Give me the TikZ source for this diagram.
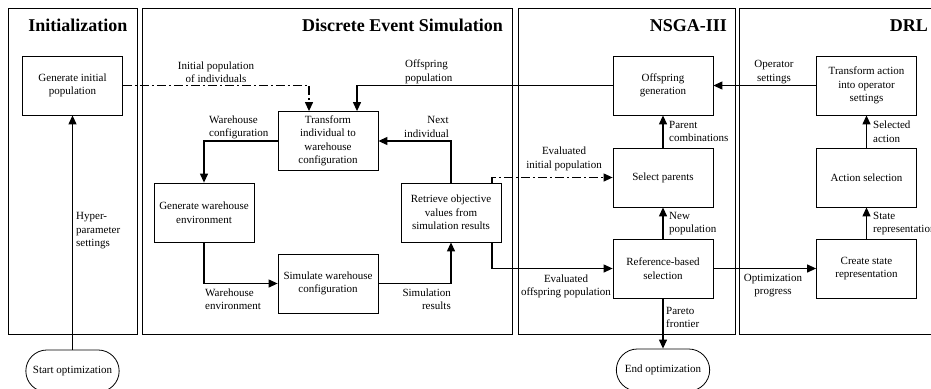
\documentclass[tikz,border=0pt]{standalone}
\usepackage{fontspec}
\setmainfont{Liberation Serif}
\usetikzlibrary{arrows.meta,shapes.misc}

\begin{document}
\begin{tikzpicture}[x=1pt,y=-1pt,
    every node/.style={font=\fontsize{11}{13.5}\selectfont},
    panel/.style={line width=1pt},
    paneltitle/.style={font=\fontsize{18}{20}\selectfont\bfseries,inner sep=0pt},
    procbox/.style={draw,line width=0.8pt,minimum width=100pt,minimum height=59pt,align=center,inner sep=2pt},
    terminal/.style={draw,line width=0.8pt,rounded rectangle,minimum width=100pt,minimum height=42pt},
    lbl/.style={inner sep=0pt,align=center},
    lbll/.style={inner sep=0pt,align=left,anchor=west},
    lblr/.style={inner sep=0pt,align=right,anchor=east},
    flow/.style={line width=1.2pt,-{Triangle[length=9pt,width=8pt]}},
    dataflow/.style={flow,dash pattern=on 9pt off 3pt on 2pt off 3pt}]
        \useasboundingbox (0,0) rectangle (931,388);

        % panels
        \draw[panel] (8,8) rectangle (137,334);
        \draw[panel] (142.5,8) rectangle (512,334);
        \draw[panel] (518,8) rectangle (735,334);
        \draw[panel] (739,8) rectangle (945,334);
        \node[paneltitle,anchor=base] (tinit) at (77.8,31.5) {Initialization};
        \node[paneltitle,anchor=base east] (tdes) at (503,31.5) {Discrete Event Simulation};
        \node[paneltitle,anchor=base east] (tnsga) at (727,31.5) {NSGA-III};
        \node[paneltitle,anchor=base east] (tdrl) at (928,31.5) {DRL};

        % initialization
        \node[procbox] (geninit) at (72.5,85.5) {Generate initial\\population};
        \node[terminal] (start) at (72.5,371) {Start optimization};
        \draw[flow] (start.north) -- (geninit.south);
        \node[lbll] (hyperlbl) at (76,231) {Hyper-\\parameter\\settings};

        % discrete event simulation
        \node[procbox] (trans) at (328,141) {Transform\\individual to\\warehouse\\configuration};
        \node[procbox] (genwh) at (204,212.5) {Generate warehouse\\environment};
        \node[procbox] (sim) at (328,283.5) {Simulate warehouse\\configuration};
        \node[procbox] (retr) at (451,212.5) {Retrieve objective\\values from\\simulation results};
        \draw[dataflow] (geninit.east) -| ([xshift=-19pt]trans.north);
        \node[lbl] (initlbl) at (216,72) {Initial population\\of individuals};
        \draw[flow] (trans.west) -| (genwh.north);
        \node[lbll] (whcfglbl) at (209,127.5) {Warehouse\\configuration};
        \draw[flow] (genwh.south) |- (sim.west);
        \node[lbll] (whenvlbl) at (205,299) {Warehouse\\environment};
        \draw[flow] (sim.east) -| (retr.south);
        \node[lblr] (simreslbl) at (451,299) {Simulation\\results};
        \draw[flow] (retr.north) |- (trans.east);
        \node[lblr] (nextlbl) at (449,127) {Next\\individual};

        % nsga-iii
        \node[procbox] (offgen) at (663,85.5) {Offspring\\generation};
        \node[procbox] (selpar) at (663,177.5) {Select parents};
        \node[procbox] (refsel) at (663,268.5) {Reference-based\\selection};
        \node[terminal] (end) at (663,370) {End optimization};
        \draw[flow] (offgen.west) -| ([xshift=29pt]trans.north);
        \node[lbll] (offlbl) at (405,72) {Offspring\\population};
        \draw[dataflow] ([xshift=41pt]retr.north) |- (selpar.west);
        \node[lbl] (evinitlbl) at (564,159) {Evaluated\\initial population};
        \draw[flow] ([xshift=41pt]retr.south) |- (refsel.west);
        \node[lbl] (evofflbl) at (566,286.5) {Evaluated\\offspring population};
        \draw[flow] (selpar.north) -- (offgen.south);
        \node[lbll] (parentlbl) at (669,131.7) {Parent\\combinations};
        \draw[flow] (refsel.north) -- (selpar.south);
        \node[lbll] (newpoplbl) at (669,223.7) {New\\population};
        \draw[flow] (refsel.south) -- (end.north);
        \node[lbll] (paretolbl) at (666,317.5) {Pareto\\frontier};

        % drl
        \node[procbox] (transact) at (866.5,85.5) {Transform action\\into operator\\settings};
        \node[procbox] (actsel) at (866.5,177.5) {Action selection};
        \node[procbox] (crstate) at (866.5,268.5) {Create state\\representation};
        \draw[flow] (transact.west) -- (offgen.east);
        \node[lbl] (opsetlbl) at (774,72) {Operator\\settings};
        \draw[flow] (refsel.east) -- (crstate.west);
        \node[lbl] (optproglbl) at (773,285.5) {Optimization\\progress};
        \draw[flow] (actsel.north) -- (transact.south);
        \node[lbll] (selactlbl) at (873,131.7) {Selected\\action};
        \draw[flow] (crstate.north) -- (actsel.south);
        \node[lbll] (statelbl) at (873,223.7) {State\\representation};
    \end{tikzpicture}
\end{document}
